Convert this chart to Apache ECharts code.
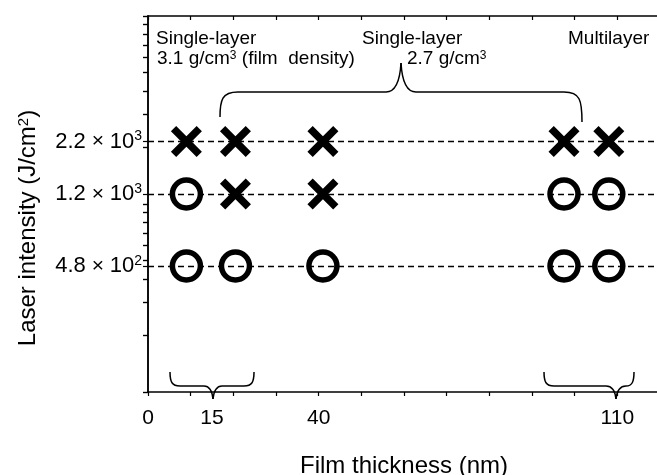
<!DOCTYPE html>
<html>
<head>
<meta charset="utf-8">
<script src="https://cdn.jsdelivr.net/npm/echarts@6/dist/echarts.min.js"></script>
<style>
  html, body { margin: 0; padding: 0; background: #fff; }
  #chart { width: 657px; height: 475px; }
</style>
</head>
<body>
<div id="chart"></div>
<script>
// film positions of the five sample columns (nm axis)
const columnX = [9, 20.5, 41, 97.5, 108]
// laser intensity rows as placed in the figure (J/cm2)
const intensityLevels = [2150, 1130, 468]
// result for each level and column: 'x' = damaged, 'o' = no damage
const resultRows = [
  ['x', 'x', 'x', 'x', 'x'],
  ['o', 'x', 'x', 'o', 'o'],
  ['o', 'o', 'o', 'o', 'o']
]
// tick labels
const xLabelValues = [0, 15, 40, 110]
const yLabelMantissa = ['2.2', '1.2', '4.8']
const yLabelExponent = ['3', '3', '2']
const yTickValues = [100, 200, 300, 400, 500, 600, 700, 800, 900,
  1000, 2000, 3000, 4000, 5000, 6000, 7000, 8000, 9000, 10000]

const FONT = '"Liberation Sans", Arial, sans-serif'

const circleData = []
const crossData = []
resultRows.forEach((row, i) => {
  row.forEach((r, j) => {
    const p = [columnX[j], intensityLevels[i]]
    if (r === 'o') circleData.push(p)
    else crossData.push(p)
  })
})

const crossPath = 'path://M0,1.7L1.7,0L5,3.3L8.3,0L10,1.7L6.7,5L10,8.3L8.3,10L5,6.7L1.7,10L0,8.3L3.3,5Z'

function yLabel(v) {
  let k = 0
  intensityLevels.forEach((y, i) => {
    if (Math.abs(Math.log(y) - Math.log(v)) < Math.abs(Math.log(intensityLevels[k]) - Math.log(v))) k = i
  })
  return '{m|' + yLabelMantissa[k] + '}{t| × }{m|10}{e|' + yLabelExponent[k] + '}'
}

// curly braces built from bezier / line pieces (pixel coords)
const braceStyle = { fill: null, stroke: '#000', lineWidth: 1.5 }
function bz(x1, y1, c1x, c1y, c2x, c2y, x2, y2) {
  return { type: 'bezierCurve', shape: { x1: x1, y1: y1, cpx1: c1x, cpy1: c1y, cpx2: c2x, cpy2: c2y, x2: x2, y2: y2 }, style: braceStyle }
}
function ln(x1, y1, x2, y2) {
  return { type: 'line', shape: { x1: x1, y1: y1, x2: x2, y2: y2 }, style: braceStyle }
}
const braces = [
  // top brace (single-layer 2.7 g/cm3)
  bz(220, 117, 220, 100, 222, 92, 238, 92), ln(238, 92, 386, 92),
  bz(386, 92, 396, 92, 400, 80, 401, 63), bz(401, 63, 402, 80, 406, 92, 416, 92),
  ln(416, 92, 564, 92), bz(564, 92, 580, 92, 582, 100, 582, 122),
  // bottom left (15 nm)
  bz(170, 372, 170, 382, 172, 386, 180, 386), ln(180, 386, 204, 386),
  bz(204, 386, 209, 386, 212, 390, 213, 399), bz(213, 399, 214, 390, 217, 386, 222, 386),
  ln(222, 386, 244, 386), bz(244, 386, 252, 386, 254, 382, 254, 372),
  // bottom right (110 nm)
  bz(544, 372, 544, 382, 546, 386, 554, 386), ln(554, 386, 606, 386),
  bz(606, 386, 611, 386, 615, 390, 616, 399), bz(616, 399, 617, 390, 620, 386, 626, 386),
  bz(626, 386, 632, 386, 634, 382, 634, 372)
]

const axisLine = { show: true, lineStyle: { color: '#000', width: 1.5 } }
const tickStyle = { color: '#000', width: 1.2 }
const supRich = { e: { fontSize: 12, lineHeight: 16, verticalAlign: 'top', fontFamily: FONT, fill: '#000' } }

const chart = echarts.init(document.getElementById('chart'))
chart.setOption({
  backgroundColor: '#fff',
  animation: false,
  grid: { left: 148, top: 16, width: 512, height: 376, containLabel: false, outerBoundsMode: 'none' },
  xAxis: [
    {
      type: 'value',
      min: 0,
      max: 120,
      interval: 10,
      position: 'bottom',
      axisLine: axisLine,
      axisTick: { show: true, inside: false, length: 4, lineStyle: tickStyle },
      splitLine: { show: false },
      axisLabel: {
        customValues: xLabelValues,
        margin: 16,
        fontSize: 21,
        color: '#000',
        fontFamily: FONT
      },
      name: 'Film thickness (nm)',
      nameLocation: 'middle',
      nameGap: 62,
      nameTextStyle: { fontSize: 24, color: '#000', fontFamily: FONT }
    },
    {
      type: 'value',
      min: 0,
      max: 120,
      interval: 10,
      position: 'top',
      axisLine: axisLine,
      axisTick: { show: true, inside: true, length: 4, lineStyle: tickStyle },
      splitLine: { show: false },
      axisLabel: { show: false }
    }
  ],
  yAxis: [
    {
      type: 'log',
      logBase: 10,
      min: 100,
      max: 10000,
      position: 'left',
      axisLine: axisLine,
      axisTick: { show: true, inside: false, length: 5, customValues: yTickValues.concat(intensityLevels), lineStyle: tickStyle },
      splitLine: { show: false },
      axisLabel: {
        customValues: intensityLevels,
        formatter: yLabel,
        margin: 6,
        color: '#000',
        fontFamily: FONT,
        rich: {
          m: { fontSize: 22, lineHeight: 24, color: '#000', fontFamily: FONT },
          t: { fontSize: 21, lineHeight: 24, color: '#000', fontFamily: FONT },
          e: { fontSize: 14, lineHeight: 18, verticalAlign: 'top', color: '#000', fontFamily: FONT }
        }
      },
      name: 'Laser intensity (J/cm{s|2})',
      nameLocation: 'middle',
      nameGap: 108,
      nameTextStyle: {
        fontSize: 24,
        color: '#000',
        fontFamily: FONT,
        padding: [0, 48, 0, 0],
        rich: {
          s: { fontSize: 15, lineHeight: 20, verticalAlign: 'top', color: '#000', fontFamily: FONT }
        }
      }
    },
    {
      type: 'log',
      logBase: 10,
      min: 100,
      max: 10000,
      position: 'right',
      axisLine: axisLine,
      axisTick: { show: true, inside: true, length: 5, customValues: yTickValues, lineStyle: tickStyle },
      splitLine: { show: false },
      axisLabel: { show: false }
    }
  ],
  series: [
    {
      name: 'levels',
      type: 'scatter',
      z: 1,
      data: [],
      markLine: {
        silent: true,
        symbol: 'none',
        label: { show: false },
        lineStyle: { color: '#000', width: 1.3, type: [6, 4] },
        data: intensityLevels.map(v => ({ yAxis: v }))
      }
    },
    {
      name: 'damaged',
      type: 'scatter',
      z: 3,
      symbol: crossPath,
      symbolSize: 31,
      itemStyle: { color: '#000', opacity: 1 },
      data: crossData
    },
    {
      name: 'no damage',
      type: 'scatter',
      z: 3,
      symbol: 'circle',
      symbolSize: 28,
      itemStyle: { color: '#fff', borderColor: '#000', borderWidth: 5.5, opacity: 1 },
      data: circleData
    }
  ],
  graphic: braces.concat([
    { type: 'text', x: 156, y: 39, style: { text: 'Single-layer', fontSize: 19, fontFamily: FONT, fill: '#000', verticalAlign: 'middle' } },
    { type: 'text', x: 157, y: 59, style: { text: '3.1 g/cm{e|3} (film  density)', fontSize: 19, fontFamily: FONT, fill: '#000', verticalAlign: 'middle', rich: supRich } },
    { type: 'text', x: 362, y: 39, style: { text: 'Single-layer', fontSize: 19, fontFamily: FONT, fill: '#000', verticalAlign: 'middle' } },
    { type: 'text', x: 407, y: 59, style: { text: '2.7 g/cm{e|3}', fontSize: 19, fontFamily: FONT, fill: '#000', verticalAlign: 'middle', rich: supRich } },
    { type: 'text', x: 568, y: 39, style: { text: 'Multilayer', fontSize: 19, fontFamily: FONT, fill: '#000', verticalAlign: 'middle' } }
  ])
})
</script>
</body>
</html>
